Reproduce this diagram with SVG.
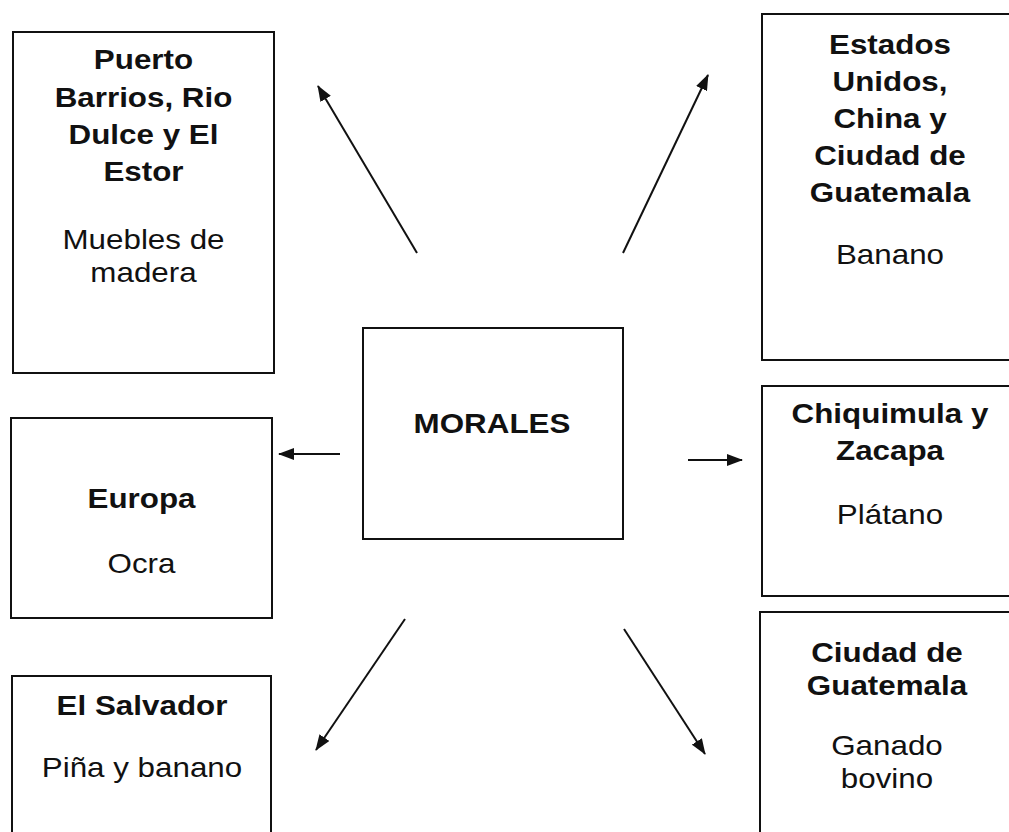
<svg xmlns="http://www.w3.org/2000/svg" width="1009" height="832" viewBox="0 0 1009 832">
<style>
.box{fill:#fff;stroke:#111;stroke-width:2}
.t{font-family:"Liberation Sans",Arial,sans-serif;font-size:28px;fill:#111;text-anchor:middle}
.b{font-weight:bold}
.c line{stroke:#111;stroke-width:2;marker-end:url(#ah)}
</style>
<defs>
<marker id="ah" viewBox="0 0 16 12" refX="15" refY="6" markerWidth="16" markerHeight="12" markerUnits="userSpaceOnUse" orient="auto">
<path d="M0,0 L16,6 L0,12 z" fill="#111"/>
</marker>
</defs>
<rect width="1009" height="832" fill="#fff"/>
<g id="n-puerto">
<rect class="box" x="13" y="32" width="261" height="341"/>
<text class="t" transform="translate(143.5,0) scale(1.12,1)"><tspan class="b" x="0" y="69">Puerto</tspan><tspan class="b" x="0" y="107">Barrios, Rio</tspan><tspan class="b" x="0" y="144">Dulce y El</tspan><tspan class="b" x="0" y="181">Estor</tspan><tspan x="0" y="249">Muebles de</tspan><tspan x="0" y="282">madera</tspan></text>
</g>
<g id="n-estados">
<rect class="box" x="762" y="14" width="258" height="346"/>
<text class="t" transform="translate(890,0) scale(1.12,1)"><tspan class="b" x="0" y="54">Estados</tspan><tspan class="b" x="0" y="91">Unidos,</tspan><tspan class="b" x="0" y="128">China y</tspan><tspan class="b" x="0" y="165">Ciudad de</tspan><tspan class="b" x="0" y="202">Guatemala</tspan><tspan x="0" y="264">Banano</tspan></text>
</g>
<g id="n-morales">
<rect class="box" x="363" y="328" width="260" height="211"/>
<text class="t b" transform="translate(492,433) scale(1.12,1)">MORALES</text>
</g>
<g id="n-europa">
<rect class="box" x="11" y="418" width="261" height="200"/>
<text class="t" transform="translate(141.5,0) scale(1.12,1)"><tspan class="b" x="0" y="508">Europa</tspan><tspan x="0" y="573">Ocra</tspan></text>
</g>
<g id="n-chiquimula">
<rect class="box" x="762" y="386" width="258" height="210"/>
<text class="t" transform="translate(890,0) scale(1.12,1)"><tspan class="b" x="0" y="423">Chiquimula y</tspan><tspan class="b" x="0" y="460">Zacapa</tspan><tspan x="0" y="524">Plátano</tspan></text>
</g>
<g id="n-salvador">
<rect class="box" x="12" y="676" width="259" height="170"/>
<text class="t" transform="translate(142,0) scale(1.12,1)"><tspan class="b" x="0" y="715">El Salvador</tspan><tspan x="0" y="777">Piña y banano</tspan></text>
</g>
<g id="n-ciudad">
<rect class="box" x="760" y="612" width="260" height="240"/>
<text class="t" transform="translate(887,0) scale(1.12,1)"><tspan class="b" x="0" y="662">Ciudad de</tspan><tspan class="b" x="0" y="695">Guatemala</tspan><tspan x="0" y="755">Ganado</tspan><tspan x="0" y="788">bovino</tspan></text>
</g>
<g id="connectors" class="c">
<line x1="417" y1="253" x2="318" y2="86"/>
<line x1="623" y1="253" x2="708" y2="75"/>
<line x1="340" y1="454" x2="279" y2="454"/>
<line x1="688" y1="460" x2="742" y2="460"/>
<line x1="405" y1="619" x2="316" y2="750"/>
<line x1="624" y1="629" x2="705" y2="754"/>
</g>
</svg>
